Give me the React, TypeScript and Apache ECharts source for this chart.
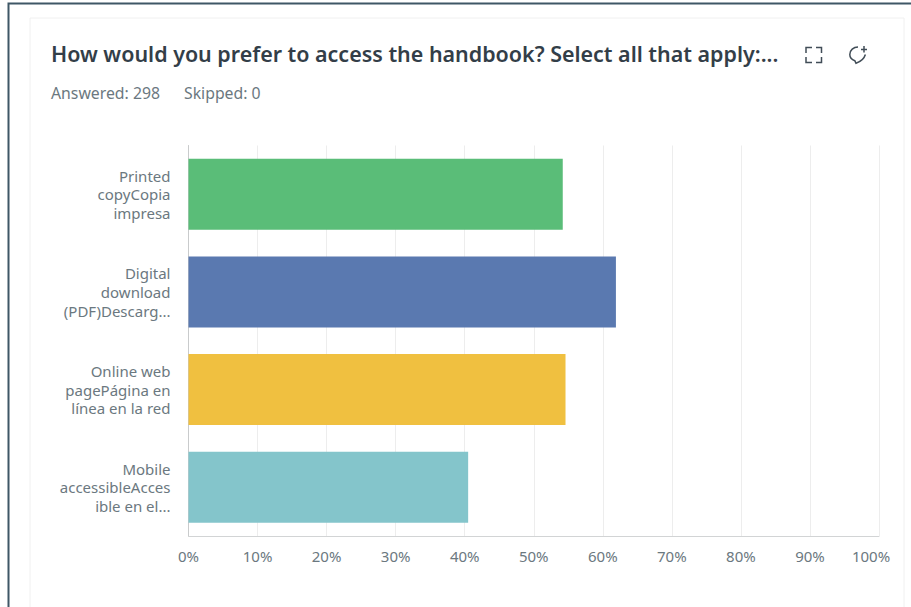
import React, { useEffect, useRef } from "react";
import * as echarts from "echarts";

const categories = [
  "Printed\ncopyCopia\nimpresa",
  "Digital\ndownload\n(PDF)Descarg...",
  "Online web\npagePágina en\nlínea en la red",
  "Mobile\naccessibleAcces\nible en el...",
];
const values = [54.2, 61.9, 54.6, 40.5];
const barColors = ["#5abd78", "#5a79b0", "#f0c040", "#84c5cb"];
const titleText = "How would you prefer to access the handbook? Select all that apply:...";
const answeredText = "Answered: 298";
const skippedText = "Skipped: 0";

const FONT = "'Noto Sans', sans-serif";
const bubble = "M9 1.5C4.5 1.5 0.8 4.8 0.8 9C0.8 12 2.8 14.2 5.8 15.2L7 17.8C10.5 16.6 15 13.6 16.4 9";

export default function App() {
  const ref = useRef<HTMLDivElement>(null);
  useEffect(() => {
    echarts.graphic.registerShape("bubble", echarts.graphic.extendPath(bubble, {}) as any);
    const chart = echarts.init(ref.current!, null, { renderer: "svg" });
    const stroke = { stroke: "#414d57", lineWidth: 1.5, fill: "none" };
    chart.setOption({
      animation: false,
      backgroundColor: "#ffffff",
      grid: { left: 188.5, right: 32, top: 145.5, bottom: 71, containLabel: false },
      xAxis: {
        type: "value",
        min: 0,
        max: 100,
        interval: 10,
        axisLine: { show: true, lineStyle: { color: "#d2d4d5", width: 1 } },
        axisTick: { show: false },
        splitLine: { show: true, lineStyle: { color: "#ededed", width: 1 } },
        axisLabel: {
          margin: 12,
          fontFamily: FONT,
          fontSize: 15,
          color: "#6b7880",
          formatter: (v: number) => (v === 100 ? "{end|100%}" : `${v}%`),
          rich: { end: { fontFamily: FONT, fontSize: 15, color: "#6b7880", padding: [0, 16, 0, 0] } },
        },
      },
      yAxis: {
        type: "category",
        inverse: true,
        data: categories,
        axisLine: { show: true, lineStyle: { color: "#c9cbcc", width: 1 } },
        axisTick: { show: false },
        axisLabel: {
          margin: 18,
          fontFamily: FONT,
          fontSize: 15,
          lineHeight: 18.6,
          color: "#6b7880",
          align: "right",
        },
      },
      series: [
        {
          type: "bar",
          barWidth: 71,
          data: values.map((value, i) => ({ value, itemStyle: { color: barColors[i] } })),
        },
      ],
      graphic: [
        { type: "rect", silent: true, z: -1, shape: { x: 8.5, y: 3.5, width: 930, height: 640 }, style: { fill: "none", stroke: "#3f5766", lineWidth: 2 } },
        { type: "rect", silent: true, z: -1, shape: { x: 30, y: 18, width: 874, height: 620 }, style: { fill: "none", stroke: "#f0f0f0", lineWidth: 1 } },
        { type: "text", x: 51, y: 43, style: { text: titleText, fontFamily: FONT, fontSize: 21.45, fontWeight: 600, fill: "#333e48" } },
        { type: "text", x: 51, y: 85, style: { text: answeredText, fontFamily: FONT, fontSize: 15.8, fill: "#6b7880" } },
        { type: "text", x: 184, y: 85, style: { text: skippedText, fontFamily: FONT, fontSize: 15.8, fill: "#6b7880" } },
        { type: "polyline", shape: { points: [[806, 53], [806, 47.5], [812, 47.5]] }, style: stroke },
        { type: "polyline", shape: { points: [[816, 47.5], [821.5, 47.5], [821.5, 53]] }, style: stroke },
        { type: "polyline", shape: { points: [[806, 57], [806, 62.5], [812, 62.5]] }, style: stroke },
        { type: "polyline", shape: { points: [[816, 62.5], [821.5, 62.5], [821.5, 57]] }, style: stroke },
        { type: "bubble", x: 849, y: 45.5, style: stroke },
        { type: "line", shape: { x1: 861, y1: 49.5, x2: 867, y2: 49.5 }, style: stroke },
        { type: "line", shape: { x1: 864, y1: 46, x2: 864, y2: 52.5 }, style: stroke },
      ],
    });
    return () => chart.dispose();
  }, []);
  return <div ref={ref} style={{ position: "fixed", left: 0, top: 0, width: 911, height: 607 }} />;
}
